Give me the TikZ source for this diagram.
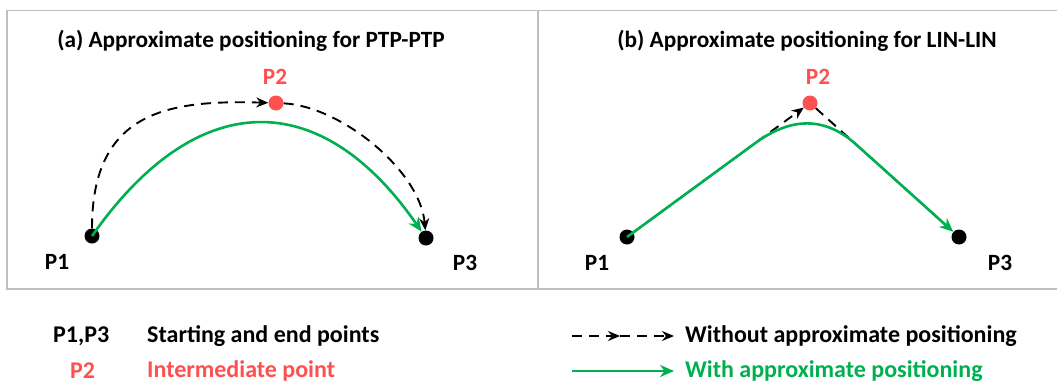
\documentclass[tikz,border=0pt]{standalone}
\usepackage{fontspec}
\setmainfont{Carlito}
\usetikzlibrary{arrows.meta,calc}
\definecolor{ogreen}{HTML}{00B050}
\definecolor{ored}{HTML}{FF5050}
\definecolor{framegray}{HTML}{BFBFBF}
\begin{document}
\begin{tikzpicture}[x=1pt,y=-1pt,
 txt/.style={font=\bfseries\fontsize{23.3}{26}\selectfont, inner sep=0pt},
 legtxt/.style={font=\bfseries\fontsize{24}{28}\selectfont, inner sep=0pt, anchor=west},
 blackdot/.style={circle, fill=black, minimum size=15pt, inner sep=0pt},
 reddot/.style={circle, fill=ored, minimum size=15pt, inner sep=0pt},
 dsh/.style={black, line width=1.9pt, dash pattern=on 10pt off 7pt, -{Stealth[length=12pt,width=10pt]}},
 grn/.style={ogreen, line width=2.6pt, -{Stealth[length=14pt,width=12pt]}},
 panelframe/.style={framegray, line width=1.5pt},
]
\useasboundingbox (0,0) rectangle (1057,383);
\draw[panelframe] (1057,10.5) -- (7,10.5) -- (7,289) -- (1057,289);
\draw[panelframe] (538,10.5) -- (538,289);

% panel a
\node[txt] (ta) at (251,41) {(a) Approximate positioning for PTP-PTP};
\node[blackdot] (a1) at (92,236) {};
\node[blackdot] (a3) at (426,238) {};
\node[reddot] (a2) at (276,103) {};
\node[txt] (la1) at (57,262) {P1};
\node[txt] (la3) at (465,263) {P3};
\node[txt, text=ored] (la2) at (275,77) {P2};
\draw[dsh] (a1) .. controls (92,110) and (170,100) .. (a2);
\draw[dsh] (a2) .. controls (340,106) and (420,170) .. (a3);
\draw[grn] (a1.center) .. controls (197,86) and (321,86) .. (a3);

% panel b
\node[txt] (tb) at (807,41) {(b) Approximate positioning for LIN-LIN};
\node[blackdot] (b1) at (627,237) {};
\node[blackdot] (b3) at (959,237) {};
\node[reddot] (b2) at (810,103) {};
\node[txt] (lb1) at (597,263) {P1};
\node[txt] (lb3) at (1000,263) {P3};
\node[txt, text=ored] (lb2) at (818,77) {P2};
\draw[dsh] (b1) -- (b2);
\draw[dsh, -] (b2) -- (b3);
\coordinate (bs) at ($(b1.center)!0.7!(b2.center)$);
\coordinate (be) at ($(b2.center)!0.31!(b3.center)$);
\draw[grn] (b1.center) -- (bs) .. controls ($(bs)!0.667!(b2.center)$) and ($(be)!0.667!(b2.center)$) .. (be) -- (b3);

% legend
\node[legtxt] (l1k) at (53,336) {P1,P3};
\node[legtxt] (l1v) at (147,336) {Starting and end points};
\node[legtxt, text=ored] (l2k) at (70,371) {P2};
\node[legtxt, text=ored] (l2v) at (147,371) {Intermediate point};
\coordinate (ld0) at (572,336);
\coordinate (ld1) at (620,336);
\coordinate (ld2) at (674,336);
\draw[dsh] (ld0) -- (ld1);
\draw[dsh] (ld1) -- (ld2);
\node[legtxt] (l3v) at (685,336) {Without approximate positioning};
\coordinate (lg0) at (572,371);
\coordinate (lg1) at (674,371);
\draw[grn] (lg0) -- (lg1);
\node[legtxt, text=ogreen] (l4v) at (685,371) {With approximate positioning};
\end{tikzpicture}
\end{document}
